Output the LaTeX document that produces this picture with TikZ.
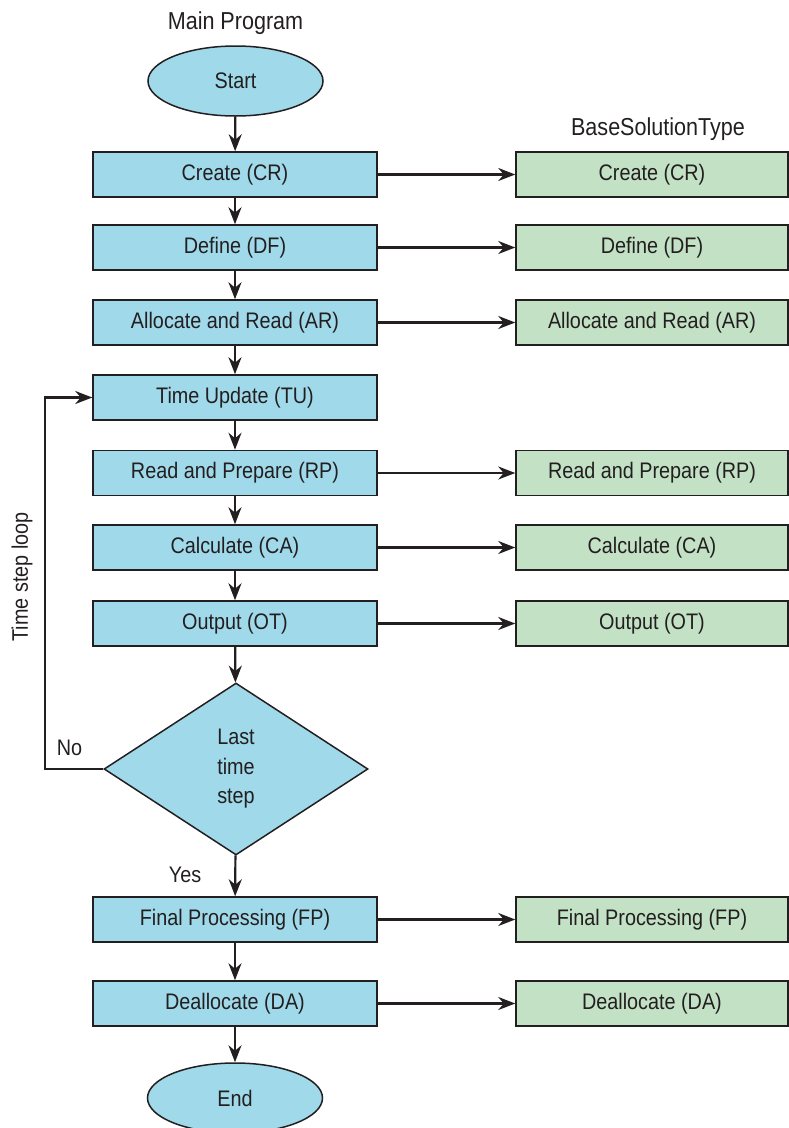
\documentclass[tikz,border=0pt]{standalone}
\usepackage{fontspec}
\setmainfont[FakeStretch=0.88]{Liberation Sans}
\usetikzlibrary{shapes.geometric,arrows.meta}

\definecolor{mainblue}{RGB}{160,218,234}
\definecolor{basegreen}{RGB}{195,225,197}
\definecolor{inkgray}{RGB}{35,31,32}

\tikzset{
    mainbox/.style={draw=inkgray, fill=mainblue, line width=1.5pt, minimum width=284pt,
        minimum height=45pt, inner sep=0pt, text=inkgray, font=\fontsize{22.5}{26}\selectfont},
    basebox/.style={mainbox, fill=basegreen, minimum width=272pt},
    terminal/.style={ellipse, draw=inkgray, fill=mainblue, line width=1.5pt, minimum width=175pt,
        minimum height=70pt, inner sep=0pt, text=inkgray, font=\fontsize{22.5}{26}\selectfont},
    decision/.style={diamond, draw=inkgray, fill=mainblue, line width=1.5pt, minimum width=264pt,
        minimum height=172pt, inner sep=0pt, align=center, text=inkgray,
        font=\fontsize{22.5}{29.5}\selectfont},
    flow/.style={draw=inkgray, line width=2.2pt, -{Stealth[length=17pt, width=13pt, inset=5.5pt]}},
    tag/.style={text=inkgray, font=\fontsize{22.5}{26}\selectfont},
    heading/.style={text=inkgray, font=\fontsize{24.5}{28}\selectfont, anchor=base}
}

\begin{document}
\begin{tikzpicture}[x=1pt, y=-1pt]
    \useasboundingbox (0,0) rectangle (789,1128);

    % Column headings
    \node[heading] (mainhead) at (235.5,29) {Main Program};
    \node[heading] (basehead) at (658,135) {BaseSolutionType};

    % Main program steps
    \node[terminal] (start) at (235.5,81) {Start};
    \node[mainbox] (cr) at (235,174.5) {Create (CR)};
    \node[mainbox] (df) at (235,247.5) {Define (DF)};
    \node[mainbox] (ar) at (235,322.5) {Allocate and Read (AR)};
    \node[mainbox] (tu) at (235,397.5) {Time Update (TU)};
    \node[mainbox] (rp) at (235,473) {Read and Prepare (RP)};
    \node[mainbox] (ca) at (235,547.5) {Calculate (CA)};
    \node[mainbox] (ot) at (235,623.5) {Output (OT)};
    \node[decision] (last) at (236,769) {Last\\time\\step};
    \node[mainbox] (fp) at (235,919.5) {Final Processing (FP)};
    \node[mainbox] (da) at (235,1003.5) {Deallocate (DA)};
    \node[terminal] (finish) at (235,1098) {End};

    % BaseSolutionType steps
    \node[basebox] (crb) at (652,174.5) {Create (CR)};
    \node[basebox] (dfb) at (652,247.5) {Define (DF)};
    \node[basebox] (arb) at (652,322.5) {Allocate and Read (AR)};
    \node[basebox] (rpb) at (652,473) {Read and Prepare (RP)};
    \node[basebox] (cab) at (652,547.5) {Calculate (CA)};
    \node[basebox] (otb) at (652,623.5) {Output (OT)};
    \node[basebox] (fpb) at (652,919.5) {Final Processing (FP)};
    \node[basebox] (dab) at (652,1003.5) {Deallocate (DA)};

    % Vertical flow
    \draw[flow] (start) -- (cr);
    \draw[flow] (cr) -- (df);
    \draw[flow] (df) -- (ar);
    \draw[flow] (ar) -- (tu);
    \draw[flow] (tu) -- (rp);
    \draw[flow] (rp) -- (ca);
    \draw[flow] (ca) -- (ot);
    \draw[flow] (ot) -- (last);
    \draw[flow] (last) -- (fp);
    \draw[flow] (fp) -- (da);
    \draw[flow] (da) -- (finish);

    % Calls into BaseSolutionType
    \draw[flow] (cr) -- (crb);
    \draw[flow] (df) -- (dfb);
    \draw[flow] (ar) -- (arb);
    \draw[flow] (rp) -- (rpb);
    \draw[flow] (ca) -- (cab);
    \draw[flow] (ot) -- (otb);
    \draw[flow] (fp) -- (fpb);
    \draw[flow] (da) -- (dab);

    % Time step loop
    \coordinate (loopcorner) at (45,769);
    \draw[flow] (last.west) -- (loopcorner) |- (tu.west);
    \node[tag] (no) at (69.5,748) {No};
    \node[tag] (yes) at (185,875) {Yes};
    \node[tag, rotate=90] (looptext) at (22,577) {Time step loop};
\end{tikzpicture}
\end{document}
